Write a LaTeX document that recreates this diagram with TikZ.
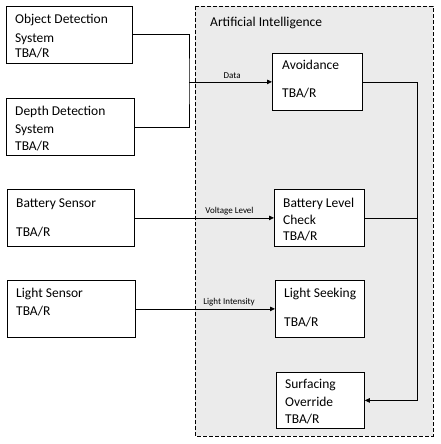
\documentclass[tikz,border=0pt]{standalone}
\usepackage{fontspec}
\setmainfont{Carlito}
\usetikzlibrary{arrows.meta}
\begin{document}
\begin{tikzpicture}[x=1pt,y=-1pt,
  box/.style={draw=black,line width=0.8pt,fill=white,anchor=north west,inner sep=0pt},
  txt/.style={anchor=base west,inner sep=0pt,font=\fontsize{13.5}{16}\selectfont},
  lbl/.style={inner sep=0pt,font=\fontsize{9}{11}\selectfont},
  conn/.style={draw=black,line width=0.8pt},
  arr/.style={conn,-{Triangle[length=5pt,width=4.5pt]}},
  frame/.style={draw=black,fill=black!8,line width=0.8pt,dash pattern=on 4pt off 2pt}
]
\useasboundingbox (0,0) rectangle (441,444);
% AI frame
\path[frame] (195,6) rectangle (433,436);
\node[txt] (aititle) at (210,27) {Artificial Intelligence};
% left boxes
\node[box,minimum width=126pt,minimum height=57pt] (obj) at (6,6) {};
\node[txt] at (15,24) {Object Detection};
\node[txt] at (15,42) {System};
\node[txt] at (15,58) {TBA/R};
\node[box,minimum width=128pt,minimum height=57pt] (depth) at (6,98) {};
\node[txt] at (15,115.5) {Depth Detection};
\node[txt] at (15,133) {System};
\node[txt] at (15,150) {TBA/R};
\node[box,minimum width=127pt,minimum height=57pt] (bsens) at (7,189) {};
\node[txt] at (16,207) {Battery Sensor};
\node[txt] at (16,236) {TBA/R};
\node[box,minimum width=128pt,minimum height=57pt] (lsens) at (7,280) {};
\node[txt] at (16,297) {Light Sensor};
\node[txt] at (16,315) {TBA/R};
% AI boxes
\node[box,minimum width=90pt,minimum height=57pt] (avoid) at (272,53) {};
\node[txt] at (282,70) {Avoidance};
\node[txt] at (282,97) {TBA/R};
\node[box,minimum width=90pt,minimum height=57pt] (bcheck) at (274,189) {};
\node[txt] at (283,207) {Battery Level};
\node[txt] at (283,224) {Check};
\node[txt] at (283,240.5) {TBA/R};
\node[box,minimum width=89pt,minimum height=57pt] (seek) at (275,280) {};
\node[txt] at (284,297) {Light Seeking};
\node[txt] at (284,326) {TBA/R};
\node[box,minimum width=88pt,minimum height=56pt] (surf) at (276,372) {};
\node[txt] at (285,388) {Surfacing};
\node[txt] at (285,406) {Override};
\node[txt] at (285,423) {TBA/R};
% connectors
\coordinate (j1) at (avoid.west -| 189,0);
\coordinate (j2) at (avoid.east -| 417,0);
\path[conn] (obj.east) -| (j1) |- (depth.east);
\path[arr] (j1) -- (avoid.west) node[lbl,pos=0.52,above=2.5pt] (dlab) {Data};
\path[arr] (bsens.east) -- (bcheck.west) node[lbl,pos=0.68,above=2pt] (vlab) {Voltage Level};
\path[arr] (lsens.east) -- (seek.west) node[lbl,pos=0.67,above=2pt] (ilab) {Light Intensity};
\path[arr] (avoid.east) -- (j2) |- (surf.east);
\path[conn] (bcheck.east) -- (bcheck.east -| j2);
\end{tikzpicture}
\end{document}
